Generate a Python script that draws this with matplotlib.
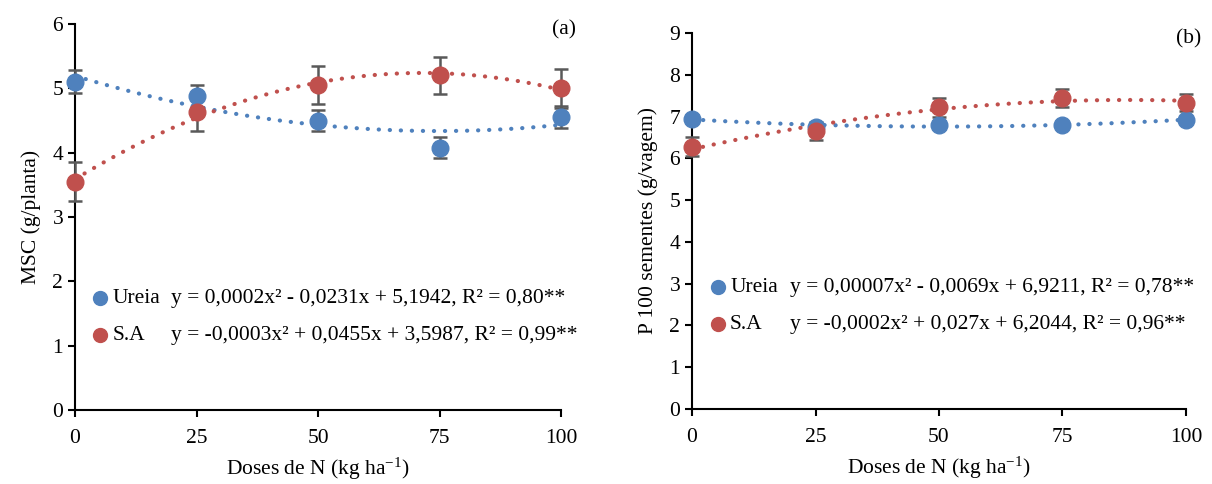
import numpy as np
import matplotlib
matplotlib.use("Agg")
import matplotlib.pyplot as plt

plt.rcParams["font.family"] = ["Liberation Serif", "DejaVu Serif"]
plt.rcParams["mathtext.fontset"] = "custom"
plt.rcParams["mathtext.rm"] = "Liberation Serif"
plt.rcParams["mathtext.it"] = "Liberation Serif:italic"

# dados
doses = [0, 25, 50, 75, 100]

msc_ureia = [5.10, 4.88, 4.50, 4.08, 4.55]
msc_ureia_err = [0.18, 0.17, 0.17, 0.17, 0.17]
msc_sa = [3.55, 4.63, 5.05, 5.20, 5.00]
msc_sa_err = [0.30, 0.29, 0.30, 0.29, 0.30]

p100_ureia = [6.95, 6.75, 6.80, 6.80, 6.92]
p100_ureia_err = [0.08, 0.08, 0.10, 0.08, 0.08]
p100_sa = [6.28, 6.65, 7.22, 7.45, 7.33]
p100_sa_err = [0.22, 0.22, 0.22, 0.22, 0.20]

eq_a = ["y = 0,0002x² - 0,0231x + 5,1942, R² = 0,80**",
        "y = -0,0003x² + 0,0455x + 3,5987, R² = 0,99**"]
eq_b = ["y = 0,00007x² - 0,0069x + 6,9211, R² = 0,78**",
        "y = -0,0002x² + 0,027x + 6,2044, R² = 0,96**"]

azul = "#4F81BD"
verm = "#C0504D"
cinza = "#595959"
fs = 15.5

fig = plt.figure(figsize=(12.12, 4.84), dpi=100)
ax1 = fig.add_axes([0.0619, 0.1529, 0.4010, 0.7975])
ax2 = fig.add_axes([0.5710, 0.1550, 0.4075, 0.7768])


def painel(ax, y1, e1, y2, e2, ymax, ylabel, eqs, letra, eq_x, eq_y, gap):
    xs = np.linspace(0, 100, 200)
    for y, e, cor in [(y1, e1, azul), (y2, e2, verm)]:
        # linha de tendência polinomial (grau 2), como no Excel
        coef = np.polyfit(doses, y, 2)
        ax.plot(xs, np.polyval(coef, xs), ls=(0, (0.05, 2.6)), lw=3.0,
                color=cor, dash_capstyle="round", zorder=2, clip_on=False)
        ax.errorbar(doses, y, yerr=e, fmt="none", ecolor=cinza, elinewidth=1.8,
                    capsize=5, capthick=1.8, zorder=3, clip_on=False)
        ax.plot(doses, y, "o", color=cor, ms=12, zorder=4, clip_on=False)
    ax.set_xlim(0, 100)
    ax.set_ylim(0, ymax)
    ax.set_xticks(doses)
    ax.set_yticks(range(0, ymax + 1))
    for s in ["top", "right"]:
        ax.spines[s].set_visible(False)
    ax.spines["left"].set_linewidth(1.5)
    ax.spines["bottom"].set_linewidth(1.5)
    ax.tick_params(direction="out", length=5, width=1.5, labelsize=fs)
    ax.tick_params(axis="x", pad=9)
    ax.set_xlabel(r"Doses de N (kg ha$^{\mathregular{-1}}$)", fontsize=fs, labelpad=5)
    ax.set_ylabel(ylabel, fontsize=fs, labelpad=8)
    ax.text(1.03, 0.985, letra, transform=ax.transAxes, ha="right", va="center", fontsize=fs)
    # legenda: marcador + nome da série, equações como texto
    ax.plot([0.052], [eq_y], "o", color=azul, ms=10, transform=ax.transAxes, clip_on=False)
    ax.plot([0.052], [eq_y - gap], "o", color=verm, ms=10, transform=ax.transAxes, clip_on=False)
    ax.text(0.077, eq_y, "Ureia", transform=ax.transAxes, fontsize=fs, va="center")
    ax.text(0.077, eq_y - gap, "S.A", transform=ax.transAxes, fontsize=fs, va="center")
    ax.text(eq_x, eq_y, eqs[0], transform=ax.transAxes, fontsize=fs, va="center")
    ax.text(eq_x, eq_y - gap, eqs[1], transform=ax.transAxes, fontsize=fs, va="center")


painel(ax1, msc_ureia, msc_ureia_err, msc_sa, msc_sa_err, 6,
       "MSC (g/planta)", eq_a, "(a)", 0.198, 0.29, 0.096)
painel(ax2, p100_ureia, p100_ureia_err, p100_sa, p100_sa_err, 9,
       "P 100 sementes (g/vagem)", eq_b, "(b)", 0.198, 0.324, 0.098)

fig.savefig("out.png", dpi=100)
